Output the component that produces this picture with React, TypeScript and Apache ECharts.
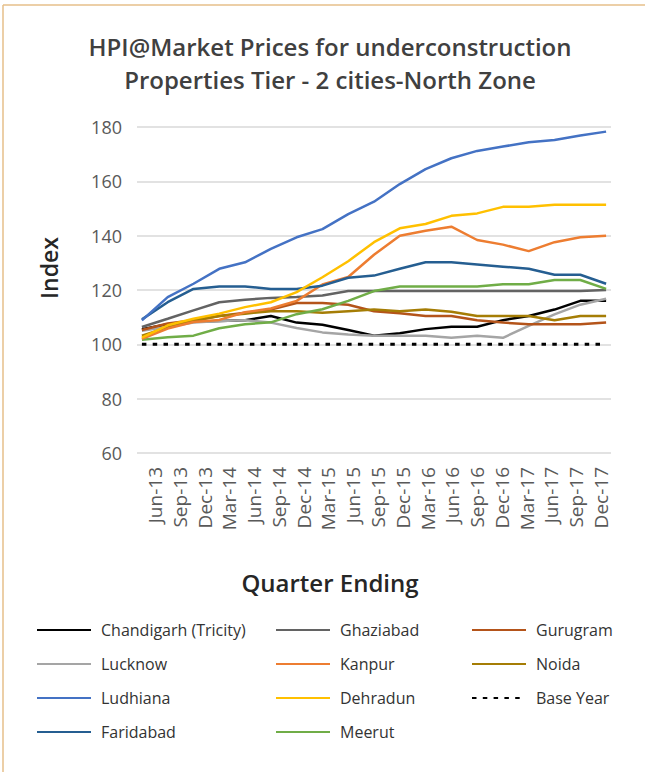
import React, { useEffect, useRef } from "react";
import * as echarts from "echarts";

const categories = [
  "Jun-13", "Sep-13", "Dec-13", "Mar-14", "Jun-14", "Sep-14", "Dec-14", "Mar-15", "Jun-15",
  "Sep-15", "Dec-15", "Mar-16", "Jun-16", "Sep-16", "Dec-16", "Mar-17", "Jun-17", "Sep-17", "Dec-17",
];

const chandigarh = [105.6, 107.4, 108.4, 108.6, 108.9, 110.4, 108.0, 107.2, 105.3, 103.2, 104.1, 105.6, 106.5, 106.5, 108.9, 110.4, 112.8, 116.0, 116.0];
const ghaziabad = [106.4, 109.4, 112.5, 115.5, 116.4, 117.1, 117.4, 118.0, 119.6, 119.6, 119.6, 119.6, 119.6, 119.6, 119.6, 119.6, 119.6, 119.6, 120.0];
const gurugram = [105.3, 107.7, 108.9, 110.4, 111.6, 112.8, 115.2, 115.2, 114.6, 112.2, 111.4, 110.4, 110.4, 108.9, 108.0, 107.4, 107.4, 107.4, 108.0];
const lucknow = [105.0, 106.5, 108.0, 108.6, 108.9, 108.0, 106.0, 104.4, 103.6, 103.2, 103.2, 103.2, 102.4, 103.2, 102.4, 106.8, 111.0, 114.6, 116.8];
const kanpur = [102.0, 105.8, 108.2, 109.0, 111.8, 113.2, 116.0, 122.0, 124.8, 133.0, 140.0, 141.8, 143.3, 138.4, 136.7, 134.3, 137.6, 139.4, 140.0];
const noida = [103.2, 106.2, 108.6, 110.4, 111.3, 112.2, 112.2, 111.6, 112.2, 112.8, 112.2, 112.8, 112.0, 110.4, 110.4, 110.4, 108.9, 110.4, 110.4];
const ludhiana = [108.8, 117.4, 122.3, 127.8, 130.2, 135.1, 139.4, 142.4, 147.9, 152.5, 159.0, 164.5, 168.5, 171.2, 172.8, 174.4, 175.2, 176.9, 178.3];
const dehradun = [102.5, 107.0, 109.4, 111.3, 113.7, 115.5, 119.2, 124.7, 130.6, 137.6, 142.7, 144.3, 147.3, 148.2, 150.6, 150.6, 151.4, 151.4, 151.4];
const baseYear = [100, 100, 100, 100, 100, 100, 100, 100, 100, 100, 100, 100, 100, 100, 100, 100, 100, 100, 100];
const faridabad = [109.2, 115.5, 120.4, 121.3, 121.3, 120.4, 120.4, 121.6, 124.5, 125.3, 127.8, 130.2, 130.2, 129.4, 128.6, 127.8, 125.6, 125.6, 122.3];
const meerut = [101.7, 102.6, 103.2, 105.9, 107.4, 108.1, 111.1, 112.9, 116.0, 119.6, 121.3, 121.3, 121.3, 121.3, 122.1, 122.1, 123.7, 123.7, 120.4];

const yTicks = [60, 80, 100, 120, 140, 160, 180];

const seriesDefs = [
  { name: "Chandigarh (Tricity)", data: chandigarh, color: "#000000" },
  { name: "Lucknow", data: lucknow, color: "#A5A5A5" },
  { name: "Ghaziabad", data: ghaziabad, color: "#636363" },
  { name: "Gurugram", data: gurugram, color: "#B4541A" },
  { name: "Noida", data: noida, color: "#A57D05" },
  { name: "Meerut", data: meerut, color: "#70AD47" },
  { name: "Kanpur", data: kanpur, color: "#ED7D31" },
  { name: "Faridabad", data: faridabad, color: "#255E91" },
  { name: "Dehradun", data: dehradun, color: "#FFC000" },
  { name: "Ludhiana", data: ludhiana, color: "#4472C4" },
  { name: "Base Year", data: baseYear, color: "#000000", dotted: true },
];

const FONT = "'Open Sans', 'Noto Sans', sans-serif";

export default function App() {
  const ref = useRef<HTMLDivElement>(null);
  useEffect(() => {
    document.body.style.margin = "0";
    if (!ref.current) return;
    const chart = echarts.init(ref.current, null, { renderer: "svg" });
    const legendCommon = {
      orient: "vertical",
      top: 617,
      itemWidth: 54,
      itemHeight: 14,
      itemGap: 18,
      selectedMode: false,
      itemStyle: { opacity: 0 },
      textStyle: { fontFamily: FONT, fontSize: 16, color: "#333333", padding: [0, 0, 0, 5] },
    };
    chart.setOption({
      animation: false,
      backgroundColor: "#ffffff",
      title: {
        text: "HPI@Market Prices for underconstruction\nProperties Tier - 2 cities-North Zone",
        left: 325,
        top: 25,
        textAlign: "center",
        textStyle: {
          fontFamily: FONT,
          fontSize: 24,
          fontWeight: 600,
          color: "#404040",
          lineHeight: 33,
        },
      },
      grid: [
        { left: 137, right: 34, top: 127, bottom: 319 },
        { left: 155, right: 44, top: 127, bottom: 319 },
      ],
      xAxis: [
        {
          type: "value",
          gridIndex: 0,
          min: -0.19,
          max: 18.19,
          axisLine: { show: false },
          axisTick: { show: false },
          axisLabel: { show: false },
          splitLine: { show: false },
        },
        {
          type: "category",
          gridIndex: 1,
          data: categories,
          boundaryGap: false,
          axisLine: { show: false },
          axisTick: { show: false },
          splitLine: { show: false },
          axisLabel: {
            rotate: 90,
            interval: 0,
            margin: 14,
            fontFamily: FONT,
            fontSize: 19,
            color: "#595959",
          },
        },
      ],
      yAxis: [
        {
          type: "value",
          gridIndex: 0,
          min: 60,
          max: 180,
          interval: 20,
          axisLine: { show: false },
          axisTick: { show: false },
          axisLabel: {
            margin: 15,
            fontFamily: FONT,
            fontSize: 18,
            color: "#595959",
            formatter: (v: number) => (yTicks.includes(v) ? String(v) : ""),
          },
          splitLine: { lineStyle: { color: "#D9D9D9", width: 1.5 } },
        },
        { type: "value", gridIndex: 1, show: false, min: 0, max: 1 },
      ],
      legend: [
        { ...legendCommon, left: 31, data: ["Chandigarh (Tricity)", "Lucknow", "Ludhiana", "Faridabad"] },
        { ...legendCommon, left: 270, data: ["Ghaziabad", "Kanpur", "Dehradun", "Meerut"] },
        { ...legendCommon, left: 466, data: ["Gurugram", "Noida", "Base Year"] },
      ],
      graphic: [
        { type: "line", shape: { x1: 3, y1: 5, x2: 645, y2: 5 }, style: { stroke: "#E6BF8A", lineWidth: 1.5 } },
        { type: "line", shape: { x1: 3, y1: 5, x2: 3, y2: 772 }, style: { stroke: "#E6BF8A", lineWidth: 1.5 } },
        {
          type: "text",
          x: 49,
          y: 268,
          rotation: Math.PI / 2,
          style: {
            text: "Index",
            fontFamily: FONT,
            fontSize: 23,
            fontWeight: 600,
            fill: "#262626",
            textAlign: "center",
            textVerticalAlign: "middle",
          },
        },
        {
          type: "text",
          x: 330,
          y: 582,
          style: {
            text: "Quarter Ending",
            fontFamily: FONT,
            fontSize: 24,
            fontWeight: 600,
            fill: "#262626",
            textAlign: "center",
            textVerticalAlign: "middle",
          },
        },
      ],
      series: seriesDefs.map((s) => ({
        name: s.name,
        type: "line",
        xAxisIndex: 0,
        yAxisIndex: 0,
        symbol: "none",
        data: s.data.map((v, i) => [i, v]),
        itemStyle: { color: s.color },
        lineStyle: {
          color: s.color,
          width: s.dotted ? 3 : 2.5,
          type: s.dotted ? [4.5, 6.3] : "solid",
        },
        z: s.dotted ? 1 : 2,
      })),
    });
    return () => chart.dispose();
  }, []);
  return <div ref={ref} style={{ width: 645, height: 772 }} />;
}
